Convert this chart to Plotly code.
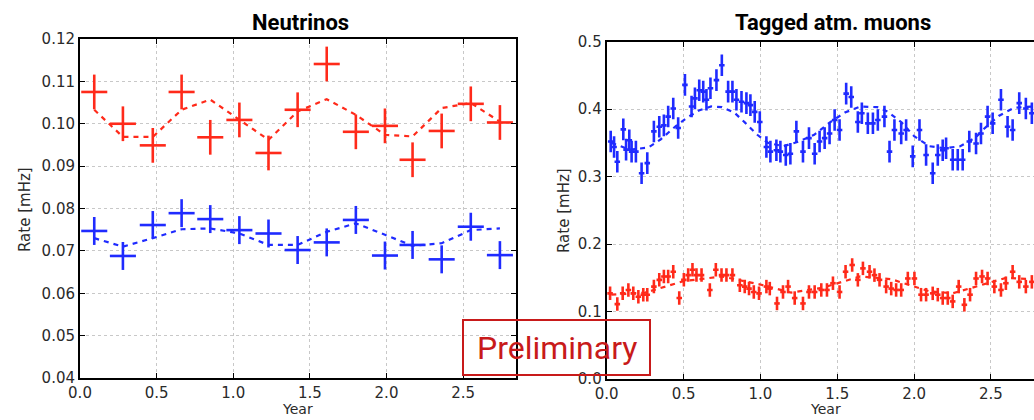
import plotly.graph_objects as go

# ---------------- Neutrinos (left panel) ----------------
nu_x = [0.093, 0.28, 0.475, 0.663, 0.85, 1.04, 1.23, 1.42, 1.61, 1.80, 1.99, 2.17, 2.36, 2.55, 2.74]
nu_red = [0.1075, 0.1000, 0.0949, 0.1075, 0.0968, 0.1009, 0.0931, 0.1033, 0.1141, 0.0981,
          0.0995, 0.0915, 0.0983, 0.1047, 0.1003]
nu_red_fit = [0.1033, 0.0969, 0.0969, 0.1033, 0.1057, 0.1009, 0.0962, 0.1029, 0.1058, 0.1021,
              0.0974, 0.0970, 0.1037, 0.1049, 0.1005]
nu_blue = [0.0747, 0.0688, 0.0761, 0.0789, 0.0775, 0.0749, 0.0741, 0.0702, 0.0720, 0.0773,
           0.0689, 0.0714, 0.0680, 0.0757, 0.0690]
nu_blue_fit = [0.0730, 0.0710, 0.0730, 0.0751, 0.0753, 0.0741, 0.0714, 0.0714, 0.0745, 0.0765,
               0.0738, 0.0712, 0.0718, 0.0749, 0.0753]
nu_xerr = 0.085
nu_red_err = 0.0041
nu_blue_err = 0.0033

# ---------------- Tagged atm. muons (right panel) ----------------
mu_blue_x = [0.026, 0.048, 0.069, 0.108, 0.126, 0.147, 0.162, 0.190, 0.227, 0.264,
             0.307, 0.342, 0.372, 0.400, 0.433, 0.465, 0.509, 0.552, 0.574, 0.602,
             0.628, 0.649, 0.675, 0.714, 0.749, 0.790, 0.818, 0.844, 0.877, 0.909,
             0.935, 0.963, 0.996, 1.039, 1.065, 1.104, 1.130, 1.165, 1.195, 1.234,
             1.277, 1.316, 1.353, 1.385, 1.418, 1.450, 1.483, 1.515, 1.558, 1.591,
             1.634, 1.660, 1.699, 1.732, 1.764, 1.807, 1.840, 1.872, 1.916, 1.948,
             1.991, 2.035, 2.078, 2.121, 2.154, 2.186, 2.208, 2.251, 2.284, 2.316,
             2.359, 2.403, 2.435, 2.478, 2.511, 2.565, 2.608, 2.641, 2.684, 2.727,
             2.766]
mu_blue = [0.352, 0.344, 0.322, 0.370, 0.340, 0.354, 0.337, 0.337, 0.305, 0.320,
           0.367, 0.374, 0.376, 0.389, 0.401, 0.372, 0.436, 0.404, 0.416, 0.428,
           0.426, 0.414, 0.431, 0.443, 0.465, 0.426, 0.426, 0.414, 0.411, 0.409,
           0.406, 0.396, 0.381, 0.344, 0.337, 0.339, 0.337, 0.332, 0.334, 0.367,
           0.337, 0.357, 0.334, 0.352, 0.357, 0.364, 0.384, 0.369, 0.423, 0.418,
           0.381, 0.394, 0.379, 0.379, 0.384, 0.389, 0.337, 0.369, 0.364, 0.369,
           0.330, 0.369, 0.332, 0.305, 0.332, 0.339, 0.342, 0.325, 0.325, 0.325,
           0.352, 0.349, 0.364, 0.389, 0.379, 0.414, 0.374, 0.369, 0.409, 0.401,
           0.394]
mu_blue_fit_x = [0.03, 0.15, 0.27, 0.35, 0.45, 0.52, 0.60, 0.68, 0.75, 0.83, 0.90, 0.98,
                 1.05, 1.15, 1.25, 1.35, 1.45, 1.55, 1.65, 1.76, 1.83, 1.92, 2.00, 2.10,
                 2.20, 2.30, 2.40, 2.46, 2.55, 2.65, 2.77]
mu_blue_fit = [0.350, 0.340, 0.343, 0.355, 0.375, 0.387, 0.398, 0.404, 0.403, 0.395, 0.380,
               0.362, 0.350, 0.345, 0.352, 0.362, 0.380, 0.395, 0.404, 0.403, 0.396, 0.380,
               0.360, 0.345, 0.342, 0.345, 0.358, 0.372, 0.390, 0.402, 0.404]

mu_red_x = [0.022, 0.069, 0.104, 0.141, 0.173, 0.206, 0.238, 0.264, 0.307, 0.342,
            0.372, 0.400, 0.433, 0.472, 0.502, 0.530, 0.558, 0.584, 0.617, 0.671,
            0.710, 0.747, 0.779, 0.818, 0.866, 0.898, 0.926, 0.957, 0.991, 1.039,
            1.061, 1.108, 1.147, 1.180, 1.223, 1.277, 1.316, 1.353, 1.396, 1.433,
            1.472, 1.515, 1.554, 1.597, 1.634, 1.667, 1.710, 1.742, 1.775, 1.818,
            1.851, 1.883, 1.916, 1.959, 2.002, 2.045, 2.078, 2.121, 2.154, 2.186,
            2.219, 2.251, 2.290, 2.327, 2.364, 2.403, 2.442, 2.478, 2.522, 2.565,
            2.597, 2.641, 2.684, 2.727, 2.766]
mu_red = [0.127, 0.111, 0.127, 0.132, 0.127, 0.122, 0.125, 0.125, 0.137, 0.147,
          0.152, 0.152, 0.159, 0.120, 0.147, 0.154, 0.162, 0.154, 0.154, 0.132,
          0.162, 0.154, 0.154, 0.154, 0.139, 0.137, 0.134, 0.129, 0.127, 0.137,
          0.134, 0.112, 0.129, 0.137, 0.120, 0.112, 0.129, 0.129, 0.132, 0.132,
          0.142, 0.129, 0.159, 0.169, 0.147, 0.164, 0.159, 0.154, 0.147, 0.137,
          0.134, 0.132, 0.132, 0.149, 0.149, 0.125, 0.125, 0.127, 0.125, 0.120,
          0.120, 0.115, 0.137, 0.110, 0.125, 0.149, 0.152, 0.149, 0.137, 0.132,
          0.142, 0.159, 0.144, 0.137, 0.144]
mu_red_fit_x = [0.03, 0.25, 0.50, 0.75, 1.00, 1.20, 1.40, 1.65, 1.85, 2.10, 2.25, 2.45, 2.60, 2.77]
mu_red_fit = [0.125, 0.128, 0.145, 0.152, 0.140, 0.128, 0.135, 0.152, 0.148, 0.130, 0.127,
              0.140, 0.150, 0.148]
mu_xerr = 0.018
mu_blue_err = 0.016
mu_red_err = 0.010

RED = "#ff2a1a"
BLUE = "#1f2bff"
W, H = 1034, 420


def px(x):
    return x / W


def py(y):
    return 1 - y / H


fig = go.Figure()


def cross(x, y, xe, ye, color, xa, ya, thick):
    fig.add_trace(go.Scatter(
        x=x, y=y, mode="markers", xaxis=xa, yaxis=ya,
        marker=dict(size=2, color=color),
        error_x=dict(type="constant", value=xe, color=color, thickness=thick, width=0),
        error_y=dict(type="constant", value=ye, color=color, thickness=thick, width=0),
        showlegend=False, hoverinfo="skip"))


def dashed(x, y, color, xa, ya):
    fig.add_trace(go.Scatter(
        x=x, y=y, mode="lines", xaxis=xa, yaxis=ya,
        line=dict(color=color, width=2.2, dash="5px,5px"),
        showlegend=False, hoverinfo="skip"))


# left panel
dashed(nu_x, nu_red_fit, RED, "x", "y")
dashed(nu_x, nu_blue_fit, BLUE, "x", "y")
cross(nu_x, nu_red, nu_xerr, nu_red_err, RED, "x", "y", 2.6)
cross(nu_x, nu_blue, nu_xerr, nu_blue_err, BLUE, "x", "y", 2.6)

# right panel
dashed(mu_blue_fit_x, mu_blue_fit, BLUE, "x2", "y2")
dashed(mu_red_fit_x, mu_red_fit, RED, "x2", "y2")
cross(mu_blue_x, mu_blue, mu_xerr, mu_blue_err, BLUE, "x2", "y2", 2.6)
cross(mu_red_x, mu_red, mu_xerr, mu_red_err, RED, "x2", "y2", 2.6)

tickfont = dict(family="DejaVu Sans", size=15, color="#2a2a2a")
grid = dict(showgrid=True, gridcolor="#c8c8c8", griddash="dot", gridwidth=1, zeroline=False)
axline = dict(showline=True, linecolor="black", linewidth=2, ticks="inside", ticklen=5,
              tickcolor="black", tickfont=tickfont, automargin=False)

fig.update_layout(
    width=W, height=H, margin=dict(l=0, r=0, t=0, b=0, pad=0, autoexpand=False),
    paper_bgcolor="white", plot_bgcolor="white",
    xaxis=dict(domain=[px(80), px(516)], range=[0, 2.845], tickvals=[0, 0.5, 1, 1.5, 2, 2.5],
               tickformat=".1f", mirror="ticks", anchor="y", **axline, **grid),
    yaxis=dict(domain=[py(378), py(39)], range=[0.04, 0.12],
               tickvals=[0.04, 0.05, 0.06, 0.07, 0.08, 0.09, 0.10, 0.11, 0.12],
               tickformat=".2f", mirror="ticks", anchor="x", **axline, **grid),
    xaxis2=dict(domain=[px(606.7), 1.0], range=[0, 2.78], tickvals=[0, 0.5, 1, 1.5, 2, 2.5],
                tickformat=".1f", mirror="ticks", anchor="y2", **axline, **grid),
    yaxis2=dict(domain=[py(379), py(41.7)], range=[0, 0.5],
                tickvals=[0, 0.1, 0.2, 0.3, 0.4, 0.5],
                tickformat=".1f", mirror=False, anchor="x2", **axline, **grid),
)

title_font = dict(family="Roboto, Noto Sans", size=22, color="black", weight="bold")
label_font = dict(family="DejaVu Sans", size=15, color="#2a2a2a")
ann = [
    dict(text="Neutrinos", x=px(300), y=py(22), font=title_font),
    dict(text="Tagged atm. muons", x=px(833), y=py(22), font=title_font),
    dict(text="Rate [mHz]", x=px(25), y=py(210), font=label_font, textangle=-90),
    dict(text="Rate [mHz]", x=px(564), y=py(211), font=label_font, textangle=-90),
    dict(text="Year", x=px(297), y=py(409), font=dict(family="DejaVu Sans", size=14, color="#2a2a2a")),
    dict(text="Year", x=px(825), y=py(409), font=dict(family="DejaVu Sans", size=14, color="#2a2a2a")),
    dict(text="Preliminary", x=px(557), y=py(348),
         font=dict(family="Roboto, Noto Sans", size=32, color="#c81a1a")),
]
for a in ann:
    fig.add_annotation(xref="paper", yref="paper", xanchor="center", yanchor="middle",
                       showarrow=False, **a)

fig.add_shape(type="rect", xref="paper", yref="paper",
              x0=px(463), x1=px(650), y0=py(375), y1=py(320),
              line=dict(color="#c81a1a", width=2), fillcolor="rgba(0,0,0,0)")

fig.write_html("out.html")
